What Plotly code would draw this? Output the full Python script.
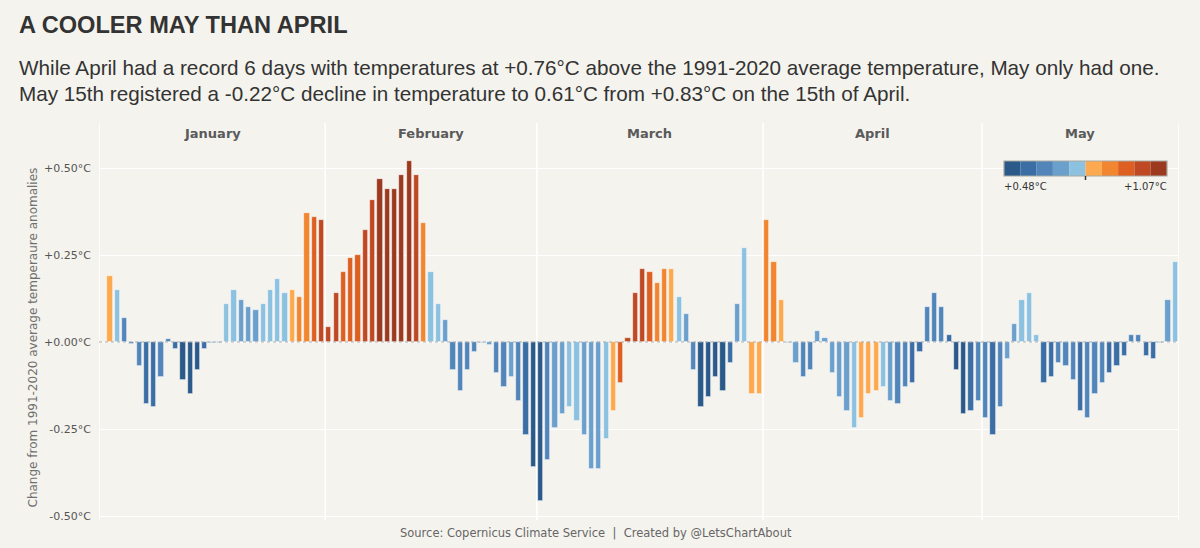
import plotly.graph_objects as go
import pandas as pd

# ---------------- data ----------------
month_names = ["January", "February", "March", "April", "May"]

# change from 1991-2020 average temperature anomalies (°C), day by day
jan_change = [None, 0.19, 0.15, 0.07, -0.005, -0.068, -0.179, -0.188, -0.10, 0.01, -0.02,
              -0.108, -0.148, -0.08, -0.02, -0.003, -0.003, 0.11, 0.15, 0.122, 0.102,
              0.091, 0.11, 0.15, 0.181, 0.142, 0.15, 0.13, 0.37, 0.36, 0.35]
feb_change = [0.042, 0.142, 0.201, 0.242, 0.25, 0.322, 0.409, 0.468, 0.44, 0.44, 0.481,
              0.52, 0.481, 0.341, 0.201, 0.11, 0.062, -0.08, -0.14, -0.08, -0.029,
              -0.004, -0.009, -0.088, -0.128, -0.10, -0.169, -0.268, -0.358]
mar_change = [-0.458, -0.339, -0.246, -0.208, -0.187, -0.227, -0.267, -0.366, -0.366, -0.278,
              -0.198, -0.119, 0.011, 0.142, 0.21, 0.201, 0.17, 0.21, 0.21, 0.13, 0.081,
              -0.08, -0.188, -0.159, -0.10, -0.14, -0.059, 0.11, 0.27, -0.148, -0.148]
apr_change = [0.35, 0.23, 0.122, -0.003, -0.059, -0.10, -0.08, 0.031, 0.011, -0.088,
              -0.159, -0.198, -0.246, -0.218, -0.148, -0.14, -0.128, -0.169, -0.179, -0.128,
              -0.119, -0.029, 0.102, 0.142, 0.102, 0.02, -0.08, -0.208, -0.198, -0.169]
may_change = [-0.218, -0.267, -0.187, -0.048, 0.051, 0.122, 0.142, 0.02, -0.119, -0.10,
              -0.059, -0.068, -0.108, -0.198, -0.218, -0.148, -0.119, -0.088, -0.068, -0.039,
              0.02, 0.02, -0.039, -0.048, -0.003, 0.122, 0.23]

# absolute anomaly (°C above 1991-2020), used for colour
jan_anom = [None, 0.80, 0.75, 0.63, 0.63, 0.63, 0.57, 0.57, 0.63, 0.63, 0.57, 0.51, 0.51,
            0.51, 0.57, 0.63, 0.63, 0.75, 0.75, 0.69, 0.69, 0.69, 0.75, 0.75, 0.75, 0.75,
            0.80, 0.86, 0.86, 0.92, 0.98]
feb_anom = [0.98, 0.98, 0.92, 0.92, 0.92, 0.98, 0.98, 1.04, 1.04, 1.04, 1.04, 1.04, 0.98,
            0.86, 0.75, 0.75, 0.69, 0.63, 0.63, 0.63, 0.63, 0.69, 0.69, 0.63, 0.63, 0.69,
            0.63, 0.57, 0.51]
mar_anom = [0.51, 0.63, 0.69, 0.69, 0.75, 0.75, 0.69, 0.69, 0.69, 0.75, 0.80, 0.92, 0.98,
            0.98, 0.98, 0.92, 0.86, 0.86, 0.80, 0.75, 0.69, 0.63, 0.51, 0.51, 0.51, 0.51,
            0.57, 0.69, 0.75, 0.80, 0.80]
apr_anom = [0.86, 0.86, 0.80, 0.69, 0.69, 0.63, 0.63, 0.69, 0.69, 0.69, 0.69, 0.69, 0.75,
            0.80, 0.83, 0.80, 0.75, 0.69, 0.63, 0.63, 0.57, 0.57, 0.63, 0.63, 0.63, 0.57,
            0.51, 0.51, 0.57, 0.63]
may_anom = [0.63, 0.57, 0.63, 0.69, 0.69, 0.75, 0.75, 0.75, 0.57, 0.57, 0.63, 0.63, 0.63,
            0.57, 0.61, 0.63, 0.63, 0.57, 0.57, 0.57, 0.63, 0.63, 0.57, 0.57, 0.63, 0.69, 0.75]

legend_min, legend_max = 0.48, 1.07
palette = ["#2B5A8A", "#3B6EA4", "#5286BA", "#6BA0CD", "#8CC1E0",
           "#FDA94F", "#F28530", "#DD5F22", "#BE4923", "#9C3A20"]

tick_vals = [0.5, 0.25, 0.0, -0.25, -0.5]
tick_text = ["+0.50°C", "+0.25°C", "+0.00°C", "-0.25°C", "-0.50°C"]

title_text = "A COOLER MAY THAN APRIL"
subtitle_lines = [
    "While April had a record 6 days with temperatures at +0.76°C above the 1991-2020 average temperature, May only had one.",
    "May 15th registered a -0.22°C decline in temperature to 0.61°C from +0.83°C on the 15th of April.",
]
y_title = "Change from 1991-2020 average temperaure anomalies"
source_text = "Source: Copernicus Climate Service  |  Created by @LetsChartAbout"

# ---------------- build ----------------
change = jan_change + feb_change + mar_change + apr_change + may_change
anomaly = jan_anom + feb_anom + mar_anom + apr_anom + may_anom
dates = pd.date_range("2024-01-01", periods=len(change), freq="D")

step = (legend_max - legend_min) / len(palette)


def colour_for(a):
    if a is None:
        return "rgba(0,0,0,0)"
    k = int((a - legend_min) / step)
    k = max(0, min(len(palette) - 1, k))
    return palette[k]


colors = [colour_for(a) for a in anomaly]

BG = "#F5F3EE"
SANS = "DejaVu Sans, sans-serif"
half = pd.Timedelta(hours=12)
x_start = dates[0] - half
x_end = dates[-1] + half

fig = go.Figure()
fig.add_trace(go.Bar(
    x=dates, y=change,
    marker=dict(color=colors, line=dict(color="rgba(255,255,255,0.75)", width=0.7)),
    width=0.72 * 86400000,
    hovertemplate="%{x|%b %d}: %{y:+.2f}°C<extra></extra>",
))

# plot area in pixels: left 99, right 1179, top 155, bottom 520
L, R, T, B = 99, 1179, 155, 520
W, H = R - L, B - T


def px_x(p):
    return (p - L) / W


def px_y(p):
    return (B - p) / H


shapes = []
annotations = []

# month dividers and labels
month_starts = [dates[0]] + [d for d in dates[1:] if d.day == 1]
bounds = [d - half for d in month_starts] + [x_end]
for b in bounds:
    shapes.append(dict(type="line", xref="x", yref="paper", x0=b, x1=b, y0=0, y1=px_y(123),
                       line=dict(color="white", width=1.6), layer="below"))
for i, name in enumerate(month_names):
    mid = bounds[i] + (bounds[i + 1] - bounds[i]) / 2
    annotations.append(dict(x=mid, y=px_y(134), xref="x", yref="paper", text="<b>%s</b>" % name,
                            showarrow=False, font=dict(family=SANS, size=13, color="#5A5A5A"),
                            xanchor="center", yanchor="middle"))

# dotted zero line
shapes.append(dict(type="line", xref="paper", yref="y", x0=0, x1=1, y0=0, y1=0,
                   line=dict(color="#AAAAAA", width=1, dash="dot"), layer="above"))

# colour legend
lx0, lx1, ly0, ly1 = 1004, 1167, 161, 176
cw = (lx1 - lx0) / len(palette)
for i, c in enumerate(palette):
    shapes.append(dict(type="rect", xref="paper", yref="paper",
                       x0=px_x(lx0 + i * cw), x1=px_x(lx0 + (i + 1) * cw),
                       y0=px_y(ly1), y1=px_y(ly0), fillcolor=c, line=dict(width=0), layer="above"))
shapes.append(dict(type="rect", xref="paper", yref="paper", x0=px_x(lx0), x1=px_x(lx1),
                   y0=px_y(ly1), y1=px_y(ly0), line=dict(color="#A8A8A0", width=1.2), layer="above"))
shapes.append(dict(type="line", xref="paper", yref="paper", x0=px_x(lx0 + 5 * cw), x1=px_x(lx0 + 5 * cw),
                   y0=px_y(ly1 + 4), y1=px_y(ly1), line=dict(color="#333333", width=1.5), layer="above"))
annotations.append(dict(x=px_x(lx0 - 2), y=px_y(186), xref="paper", yref="paper",
                        text="+%.2f°C" % legend_min, showarrow=False, xanchor="left", yanchor="middle",
                        font=dict(family=SANS, size=10, color="#333333")))
annotations.append(dict(x=px_x(lx1 + 2), y=px_y(186), xref="paper", yref="paper",
                        text="+%.2f°C" % legend_max, showarrow=False, xanchor="right", yanchor="middle",
                        font=dict(family=SANS, size=10, color="#333333")))

# titles
annotations.append(dict(x=px_x(17), y=px_y(25), xref="paper", yref="paper", text="<b>%s</b>" % title_text,
                        showarrow=False, xanchor="left", yanchor="middle",
                        font=dict(family="Liberation Sans, Arial, sans-serif", size=23.6, color="#333333")))
for i, line in enumerate(subtitle_lines):
    annotations.append(dict(x=px_x(17), y=px_y(68 + 25 * i), xref="paper", yref="paper", text=line,
                            showarrow=False, xanchor="left", yanchor="middle",
                            font=dict(family="Liberation Sans, Arial, sans-serif", size=20.7, color="#333333")))

# y-axis title
annotations.append(dict(x=px_x(32), y=0.5, xref="paper", yref="paper", text=y_title, textangle=-90,
                        showarrow=False, xanchor="center", yanchor="middle",
                        font=dict(family=SANS, size=12, color="#707070")))

# source
annotations.append(dict(x=px_x(596), y=px_y(533), xref="paper", yref="paper", text=source_text,
                        showarrow=False, xanchor="center", yanchor="middle",
                        font=dict(family=SANS, size=11.5, color="#666666")))

y_top = 0.5 + (168 - T) / 348
y_bot = -0.5 - (B - 516) / 348

fig.update_layout(
    width=1200, height=548,
    margin=dict(l=L, r=1200 - R, t=T, b=548 - B),
    paper_bgcolor=BG, plot_bgcolor=BG,
    showlegend=False,
    bargap=0,
    xaxis=dict(range=[x_start, x_end], showticklabels=False, showgrid=False, zeroline=False,
               ticks="", showline=False, fixedrange=True),
    yaxis=dict(range=[y_bot, y_top], tickvals=tick_vals, ticktext=tick_text,
               showgrid=True, gridcolor="white", gridwidth=1, zeroline=False, showline=False,
               ticks="", ticklabelstandoff=7, fixedrange=True,
               tickfont=dict(family=SANS, size=11, color="#555555")),
    shapes=shapes,
    annotations=annotations,
)

fig.write_html(
    "out.html",
    config={"displayModeBar": False},
    post_script="document.body.style.margin='0';document.body.style.background='%s';" % BG,
)
